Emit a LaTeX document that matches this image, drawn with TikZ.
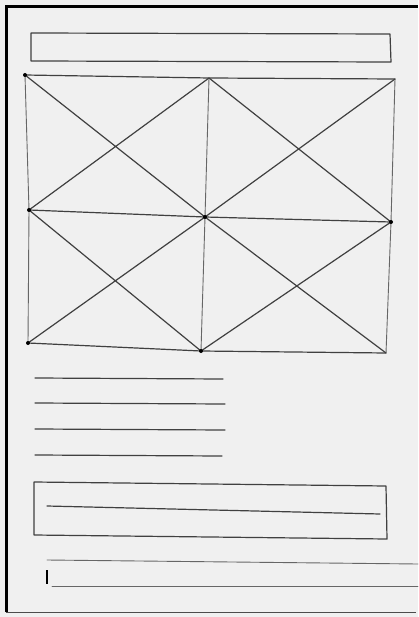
\documentclass[tikz,border=0pt]{standalone}
\begin{document}
\begin{tikzpicture}[x=1pt,y=-1pt,
  pencil/.style={draw=black!75,line width=1.2pt,line cap=round,line join=round},
  faint/.style={draw=black!60,line width=0.9pt,line cap=round},
  dotpt/.style={circle,fill=black,inner sep=0pt,minimum size=4pt}]
\fill[white!94!black] (0,0) rectangle (418,617);
\useasboundingbox (0,0) rectangle (418,617);
% photo frame
\draw[black,line width=3pt] (6,612) -- (6,7) -- (418,7);
\draw[black!70,line width=1pt] (6,612) -- (416,612);
% top bar
\draw[pencil] (31,33) -- (390,34) -- (391,62) -- (31,61) -- cycle;
% grid points
\coordinate (TL) at (25,75);
\coordinate (TM) at (209,78);
\coordinate (TR) at (395,79);
\coordinate (ML) at (29,210);
\coordinate (MM) at (205,217);
\coordinate (MR) at (391,222);
\coordinate (BL) at (28,343);
\coordinate (BM) at (201,351);
\coordinate (BR) at (386,353);
\draw[pencil] (TL) -- (TM) -- (TR);
\draw[pencil] (ML) -- (MM) -- (MR);
\draw[pencil] (BL) -- (BM) -- (BR);
\draw[faint] (TL) -- (ML) -- (BL);
\draw[faint] (TM) -- (MM) -- (BM);
\draw[faint] (TR) -- (MR) -- (BR);
\draw[pencil] (TL) -- (MM) (TM) -- (ML);
\draw[pencil] (TM) -- (MR) (TR) -- (MM);
\draw[pencil] (ML) -- (BM) (MM) -- (BL);
\draw[pencil] (MM) -- (BR) (MR) -- (BM);
\foreach \p in {TL,ML,MM,BL,BM,MR} \node[dotpt] at (\p) {};
% text lines
\coordinate (a1) at (35,378); \coordinate (a2) at (223,379);
\coordinate (b1) at (35,403); \coordinate (b2) at (225,404);
\coordinate (c1) at (35,429); \coordinate (c2) at (225,430);
\coordinate (d1) at (35,455); \coordinate (d2) at (222,456);
\draw[pencil] (a1) -- (a2) (b1) -- (b2) (c1) -- (c2) (d1) -- (d2);
% lower box
\draw[pencil] (34,482) -- (386,486) -- (387,539) -- (34,535) -- cycle;
\coordinate (e1) at (47,506); \coordinate (e2) at (380,514);
\draw[pencil] (e1) -- (e2);
% bottom field
\coordinate (f1) at (47,560); \coordinate (f2) at (418,564);
\coordinate (g1) at (52,586); \coordinate (g2) at (418,586);
\draw[faint] (f1) -- (f2);
\draw[faint] (g1) -- (g2);
\draw[black,line width=1.5pt] (47,570) -- (47,584);
\end{tikzpicture}
\end{document}
